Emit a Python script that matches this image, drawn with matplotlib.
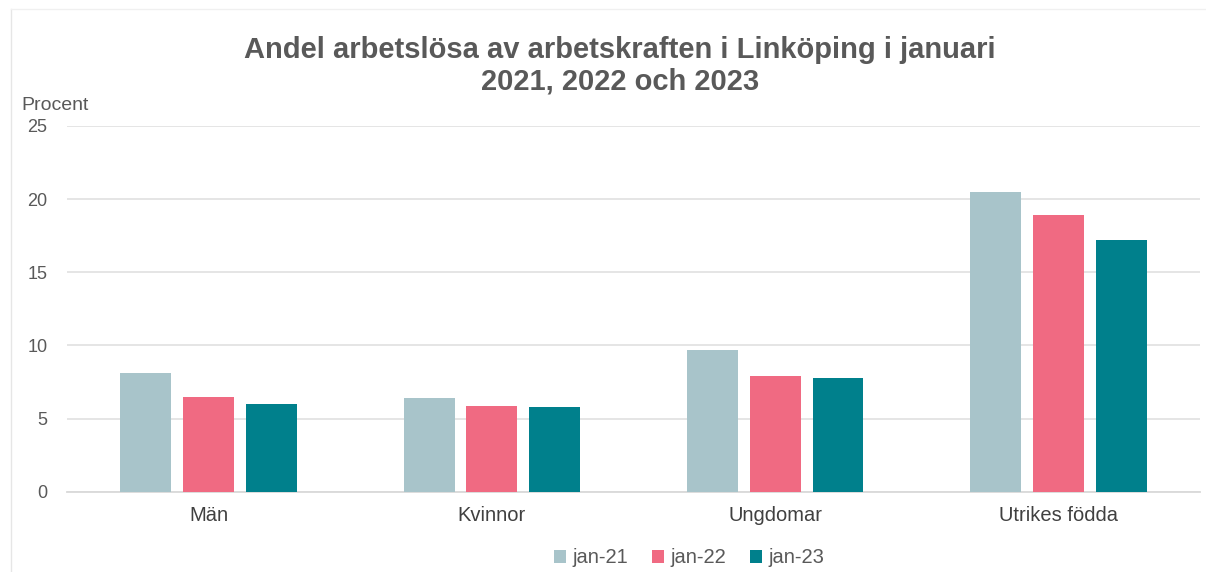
import numpy as np
import matplotlib.pyplot as plt

plt.rcParams['font.family'] = ['Liberation Sans', 'DejaVu Sans']

kategorier = ['Män', 'Kvinnor', 'Ungdomar', 'Utrikes födda']
serier = ['jan-21', 'jan-22', 'jan-23']
jan21 = [8.1, 6.4, 9.7, 20.5]
jan22 = [6.5, 5.9, 7.9, 18.9]
jan23 = [6.0, 5.8, 7.8, 17.2]
farger = ['#A8C4CA', '#F06A82', '#00808C']

fig = plt.figure(figsize=(12.06, 5.72), dpi=100)
ax = fig.add_axes([0.0556, 0.140, 0.9394, 0.640])

ind = np.arange(len(kategorier))
bredd = 0.18
steg = 0.222
for i, (vals, namn) in enumerate(zip([jan21, jan22, jan23], serier)):
    ax.bar(ind + (i - 1) * steg, vals, bredd, color=farger[i], label=namn, zorder=3)

ax.set_xlim(-0.5, 3.5)
ax.set_ylim(0, 25)
ax.set_yticks([0, 5, 10, 15, 20, 25])
ax.set_xticks(ind)
ax.set_xticklabels(kategorier, fontsize=14.5, color='#404040')
ax.tick_params(axis='y', labelsize=13, colors='#595959', length=0, pad=14)
ax.tick_params(axis='x', length=0, pad=10)
ax.grid(axis='y', color='#E3E3E3', lw=1.3, zorder=0)
for s in ['top', 'right', 'left']:
    ax.spines[s].set_visible(False)
ax.spines['bottom'].set_color('#D9D9D9')
ax.spines['bottom'].set_linewidth(1.3)

fig.text(0.018, 0.808, 'Procent', fontsize=14, color='#595959')
fig.text(0.514, 0.937, 'Andel arbetslösa av arbetskraften i Linköping i januari\n2021, 2022 och 2023',
         ha='center', va='top', fontsize=21, fontweight='bold', color='#595959', linespacing=1.15)

ax.legend(loc='upper center', bbox_to_anchor=(0.549, -0.105), ncol=3, frameon=False,
          fontsize=14.5, handlelength=0.6, handleheight=0.6, handletextpad=0.3,
          columnspacing=1.2, labelcolor='#595959')

fig.add_artist(plt.Line2D([0.009, 0.009], [0, 0.985], color='#E6E6E6', lw=1))
fig.add_artist(plt.Line2D([0.009, 1], [0.985, 0.985], color='#F0F0F0', lw=1))

fig.savefig('out.png', dpi=100)
